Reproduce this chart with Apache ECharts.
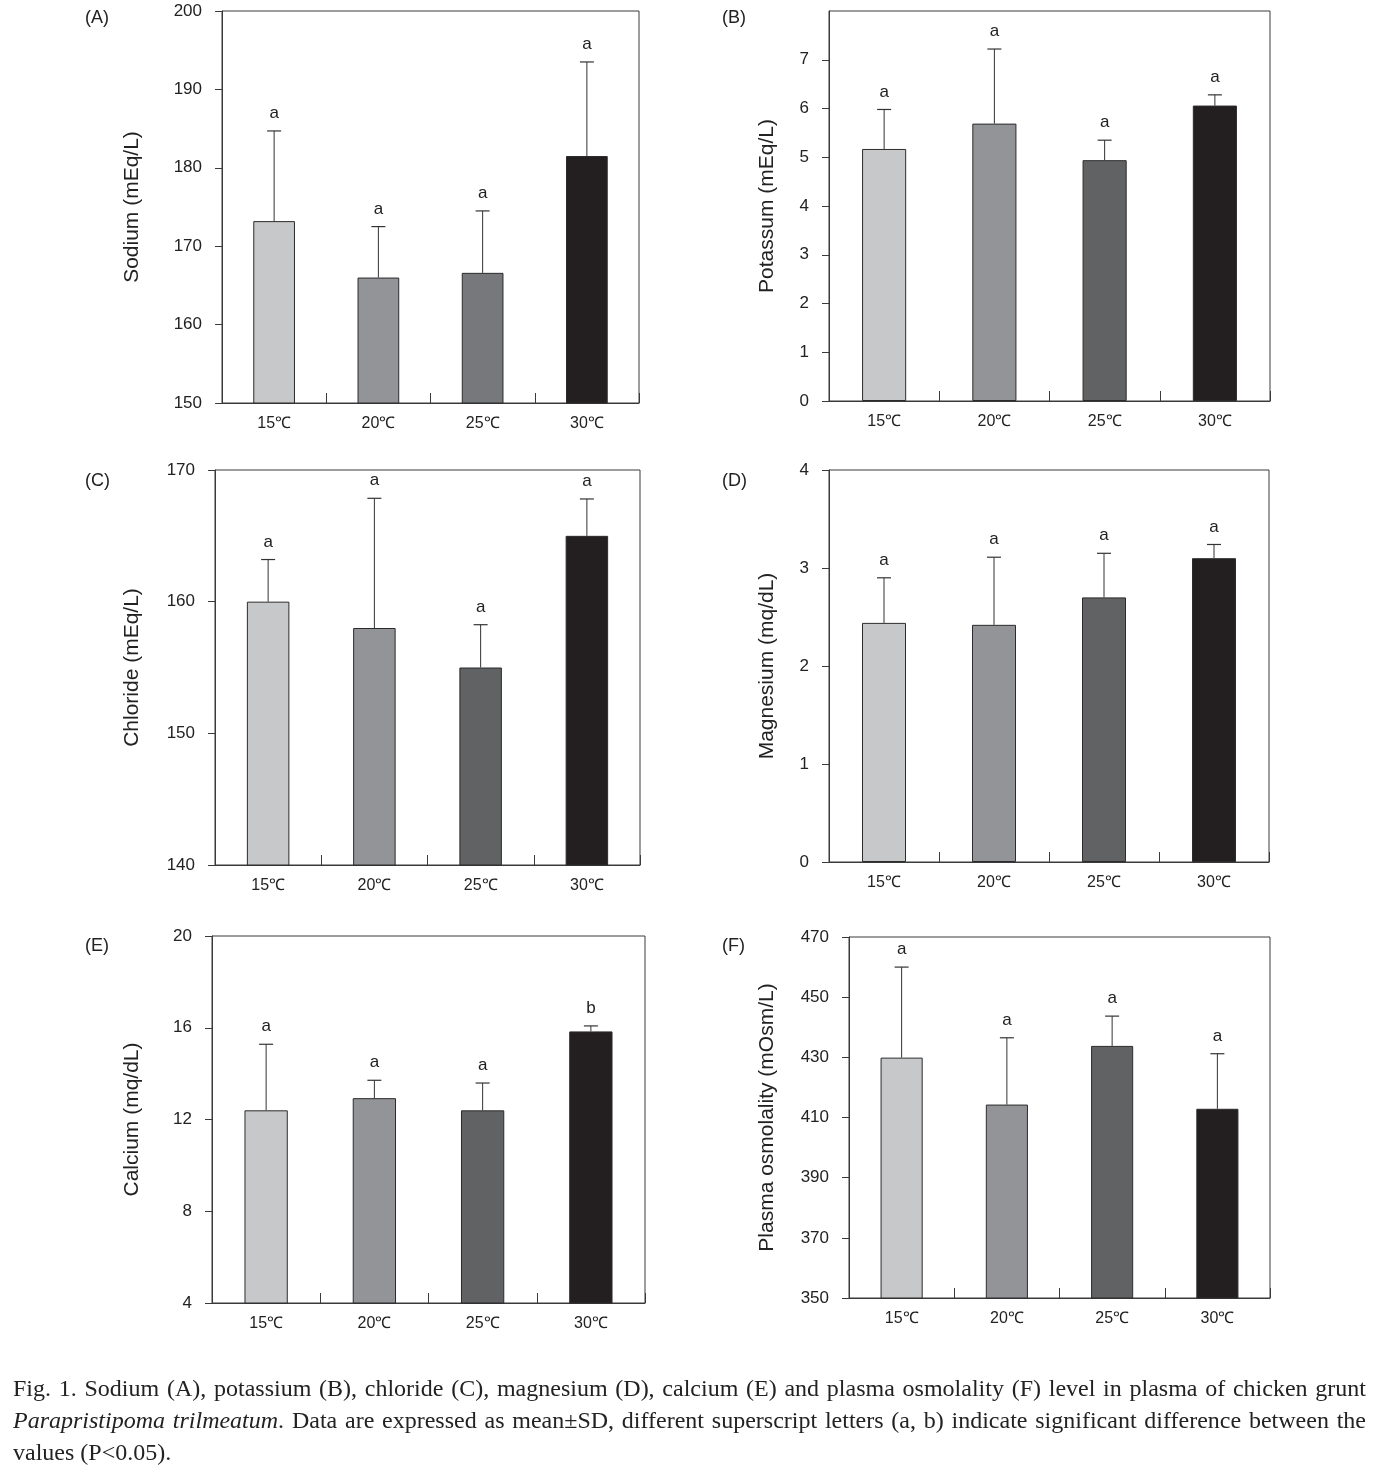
<!DOCTYPE html>
<html>
<head>
<meta charset="utf-8">
<script src="https://cdn.jsdelivr.net/npm/echarts@6/dist/echarts.min.js"></script>
<style>
html,body{margin:0;padding:0;background:#fff;}
#chart{width:1384px;height:1475px;}
</style>
</head>
<body>
<div id="chart"></div>
<script>
// ---- data ----
const categories = ['15℃', '20℃', '25℃', '30℃'];

const sodiumMean = [173.2, 166.0, 166.6, 181.5];
const sodiumSD = [11.5, 6.5, 7.9, 12.0];
const sodiumLetters = ['a', 'a', 'a', 'a'];

const potassiumMean = [5.17, 5.69, 4.94, 6.06];
const potassiumSD = [0.81, 1.53, 0.41, 0.22];
const potassiumLetters = ['a', 'a', 'a', 'a'];

const chlorideMean = [160.0, 158.0, 155.0, 165.0];
const chlorideSD = [3.2, 9.85, 3.25, 2.8];
const chlorideLetters = ['a', 'a', 'a', 'a'];

const magnesiumMean = [2.44, 2.42, 2.70, 3.10];
const magnesiumSD = [0.46, 0.69, 0.45, 0.14];
const magnesiumLetters = ['a', 'a', 'a', 'a'];

const calciumMean = [12.4, 12.93, 12.4, 15.84];
const calciumSD = [2.88, 0.78, 1.19, 0.24];
const calciumLetters = ['a', 'a', 'a', 'b'];

const osmoMean = [429.9, 414.3, 433.8, 412.9];
const osmoSD = [30.1, 22.2, 9.9, 18.3];
const osmoLetters = ['a', 'a', 'a', 'a'];

// y axis ranges [min, max, interval]
const sodiumAxis = [150, 200, 10];
const potassiumAxis = [0, 8, 1];
const chlorideAxis = [140, 170, 10];
const magnesiumAxis = [0, 4, 1];
const calciumAxis = [4, 20, 4];
const osmoAxis = [350, 470, 20];

const panelLabels = ['(A)', '(B)', '(C)', '(D)', '(E)', '(F)'];
const yNames = ['Sodium (mEq/L)', 'Potassum (mEq/L)', 'Chloride (mEq/L)', 'Magnesium (mq/dL)', 'Calcium (mq/dL)', 'Plasma osmolality (mOsm/L)'];

const captionLine1 = 'Fig. 1. Sodium (A), potassium (B), chloride (C), magnesium (D), calcium (E) and plasma osmolality (F) level in plasma of chicken grunt';
const captionLine2 = 'Parapristipoma trilmeatum. Data are expressed as mean±SD, different superscript letters (a, b) indicate significant difference between the';
const captionLine3 = 'values (P<0.05).';
const captionItalic = ['Parapristipoma', 'trilmeatum'];

// ---- layout / style ----
const FONT = 'Liberation Sans, Arial, Helvetica, sans-serif';
const colorsA = ['#c7c8ca', '#939498', '#77787b', '#231f20'];
const colorsB = ['#c7c8ca', '#939498', '#616264', '#231f20'];

const panels = [
  {mean: sodiumMean, sd: sodiumSD, letters: sodiumLetters, axis: sodiumAxis, colors: colorsA,
   grid: {left: 222, top: 11, width: 417, height: 392}, nameGap: 79, hideMax: false, lab: [99, 19]},
  {mean: potassiumMean, sd: potassiumSD, letters: potassiumLetters, axis: potassiumAxis, colors: colorsB,
   grid: {left: 829, top: 11, width: 441, height: 390}, nameGap: 51, hideMax: true, lab: [736, 19]},
  {mean: chlorideMean, sd: chlorideSD, letters: chlorideLetters, axis: chlorideAxis, colors: colorsB,
   grid: {left: 215, top: 470, width: 425, height: 395}, nameGap: 72, hideMax: false, lab: [99, 482]},
  {mean: magnesiumMean, sd: magnesiumSD, letters: magnesiumLetters, axis: magnesiumAxis, colors: colorsB,
   grid: {left: 829, top: 470, width: 440, height: 392}, nameGap: 51, hideMax: false, lab: [736, 482]},
  {mean: calciumMean, sd: calciumSD, letters: calciumLetters, axis: calciumAxis, colors: colorsB,
   grid: {left: 212, top: 936, width: 433, height: 367}, nameGap: 69, hideMax: false, lab: [99, 947]},
  {mean: osmoMean, sd: osmoSD, letters: osmoLetters, axis: osmoAxis, colors: colorsB,
   grid: {left: 849, top: 937, width: 421, height: 361}, nameGap: 71, hideMax: false, lab: [736, 947]}
];

const grids = [], xAxes = [], yAxes = [], series = [], graphics = [];

panels.forEach((p, i) => {
  grids.push(Object.assign({show: true, borderColor: '#3a3a3a', borderWidth: 1, backgroundColor: '#fff'}, p.grid));
  xAxes.push({
    type: 'category', gridIndex: i, data: categories,
    axisLine: {show: true, lineStyle: {color: '#3a3a3a', width: 1}},
    axisTick: {show: true, inside: true, length: 10, lineStyle: {color: '#3a3a3a'}},
    axisLabel: {color: '#222', fontFamily: FONT, fontSize: 16, margin: 13}
  });
  yAxes.push({
    type: 'value', gridIndex: i, min: p.axis[0], max: p.axis[1], interval: p.axis[2],
    name: yNames[i], nameLocation: 'middle', nameGap: p.nameGap,
    nameTextStyle: {color: '#222', fontFamily: FONT, fontSize: 21},
    axisLine: {show: true, lineStyle: {color: '#3a3a3a', width: 1}},
    axisTick: {show: true, inside: false, length: 7, lineStyle: {color: '#3a3a3a'}},
    axisLabel: {color: '#222', fontFamily: FONT, fontSize: 17, margin: 20,
                showMaxLabel: !p.hideMax},
    splitLine: {show: false}
  });
  series.push({
    type: 'bar', xAxisIndex: i, yAxisIndex: i, barWidth: '40%',
    data: p.mean.map((v, k) => ({value: v, itemStyle: {color: p.colors[k]}})),
    itemStyle: {borderColor: '#2b2b2b', borderWidth: 1},
    silent: true, animation: false
  });
  const letters = p.letters;
  series.push({
    type: 'custom', xAxisIndex: i, yAxisIndex: i, silent: true, animation: false,
    data: p.mean.map((v, k) => [k, v, p.sd[k]]),
    renderItem: function (params, api) {
      const k = api.value(0);
      const base = api.coord([k, api.value(1)]);
      const top = api.coord([k, api.value(1) + api.value(2)]);
      const half = 7;
      return {
        type: 'group',
        children: [
          {type: 'line', shape: {x1: base[0], y1: base[1], x2: top[0], y2: top[1]},
           style: {stroke: '#333', lineWidth: 1}},
          {type: 'line', shape: {x1: top[0] - half, y1: top[1], x2: top[0] + half, y2: top[1]},
           style: {stroke: '#333', lineWidth: 1.2}},
          {type: 'text', x: top[0], y: top[1] - 9,
           style: {text: letters[params.dataIndex], fill: '#222', font: '17px ' + FONT,
                   align: 'center', verticalAlign: 'bottom'}}
        ]
      };
    }
  });
  graphics.push({type: 'text', left: p.lab[0] - 14, top: p.lab[1] - 10,
    style: {text: panelLabels[i], fill: '#222', font: '18px ' + FONT}});
});

// caption (justified lines, word by word)
const SERIF = '"Liberation Serif", "Times New Roman", serif';
const CAP_SIZE = 24;
const measureCtx = document.createElement('canvas').getContext('2d');
function wordWidth(w, italic) {
  measureCtx.font = (italic ? 'italic ' : '') + CAP_SIZE + 'px ' + SERIF;
  return measureCtx.measureText(w).width;
}
function captionWords(line) {
  return line.split(' ').map(w => {
    const core = w.replace(/[.,]$/, '');
    const italic = captionItalic.indexOf(core) >= 0;
    if (italic && core !== w) {
      const tail = w.slice(core.length);
      return {rich: '{i|' + core + '}' + tail, width: wordWidth(core, true) + wordWidth(tail, false)};
    }
    return {rich: italic ? '{i|' + w + '}' : w, width: wordWidth(w, italic)};
  });
}
function addCaptionLine(line, top, justify) {
  const words = captionWords(line);
  const left = 13, right = 1366;
  const total = words.reduce((s, w) => s + w.width, 0);
  const space = wordWidth(' ', false);
  let gap = justify && words.length > 1 ? (right - left - total) / (words.length - 1) : space;
  if (gap < 2) gap = 2;
  let x = left;
  words.forEach(w => {
    graphics.push({type: 'text', x: x, y: top,
      style: {text: w.rich, fill: '#222', font: CAP_SIZE + 'px ' + SERIF,
        rich: {i: {fontStyle: 'italic', fontFamily: SERIF, fontSize: CAP_SIZE, fill: '#222'}}}});
    x += w.width + gap;
  });
}
addCaptionLine(captionLine1, 1378, true);
addCaptionLine(captionLine2, 1410, true);
addCaptionLine(captionLine3, 1442, false);

const chart = echarts.init(document.getElementById('chart'), null, {renderer: 'canvas'});
chart.setOption({
  animation: false,
  backgroundColor: '#fff',
  grid: grids, xAxis: xAxes, yAxis: yAxes, series: series, graphic: graphics
});
</script>
</body>
</html>
